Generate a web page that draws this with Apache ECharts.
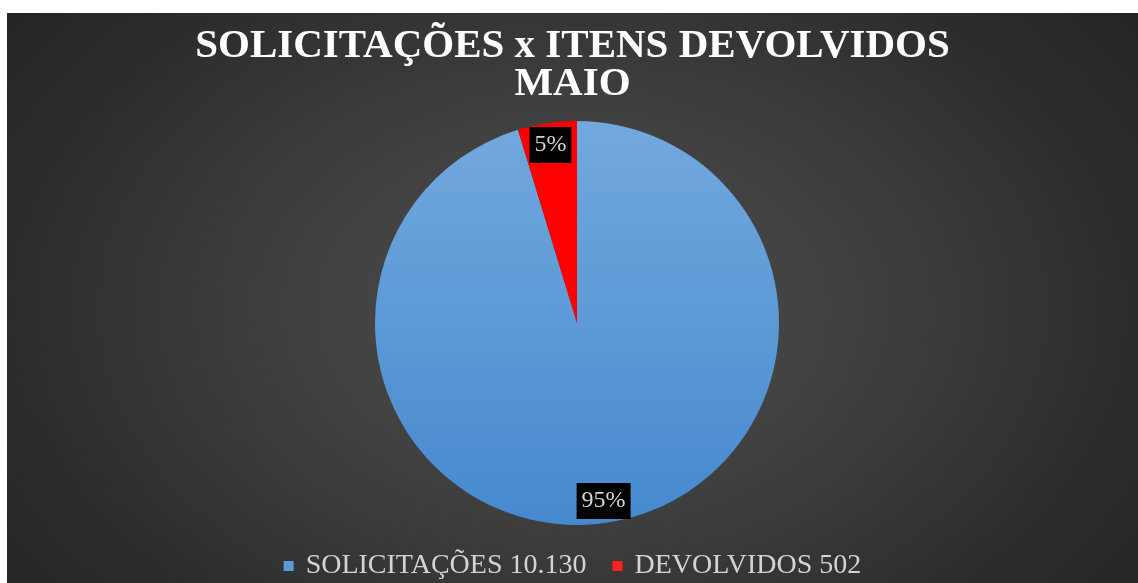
<!DOCTYPE html>
<html><head><meta charset="utf-8">
<script src="https://cdn.jsdelivr.net/npm/echarts@6/dist/echarts.min.js"></script>
<style>
html,body{margin:0;padding:0;background:#fff;width:1138px;height:583px;overflow:hidden}
#wrap{position:absolute;left:7px;top:13px;width:1131px;height:570px;
background:radial-gradient(ellipse 62% 85% at 50% 52%, #4e4e4e 0%, #404040 40%, #2c2c2c 80%, #252525 100%);}
#c{width:1131px;height:570px}
</style></head><body>
<div id="wrap"><div id="c"></div></div>
<script>
const titleText = 'SOLICITAÇÕES x ITENS DEVOLVIDOS\nMAIO';
const categories = ['SOLICITAÇÕES', 'DEVOLVIDOS'];
const values = [10130, 502];
const valueLabels = ['10.130', '502'];

const chart = echarts.init(document.getElementById('c'));
const blue = {type:'linear',x:0,y:0,x2:0,y2:1,colorStops:[{offset:0,color:'#72a9dd'},{offset:1,color:'#4689cf'}]};
const colors = [blue, '#ff0000'];
const data = categories.map((n,i)=>({name:n, value:values[i], itemStyle:{color:colors[i]}}));
const labelData = categories.map((n,i)=>({name:n, value:values[i]}));
chart.setOption({
  backgroundColor:'transparent',
  animation:false,
  title:{text:titleText, left:'center', top:9, padding:[5,5,5,13],
    textStyle:{fontFamily:'Liberation Serif', fontWeight:'bold', fontSize:41, color:'#ffffff', lineHeight:38}},
  legend:{bottom:-2, left:'center', itemWidth:10, itemHeight:10, icon:'rect', itemGap:26, padding:[5,5,5,13],
    data:[{name:categories[0], itemStyle:{color:'#5b9bd5'}},{name:categories[1], itemStyle:{color:'#ff2020'}}],
    formatter:function(n){const i=categories.indexOf(n);return n+' '+valueLabels[i];},
    textStyle:{fontFamily:'Liberation Serif', fontSize:28, color:'#d4d4d4', padding:[0,0,0,7]}},
  series:[
    {type:'pie', radius:[0,202], center:[570,310], startAngle:90, clockwise:true,
     data:data, label:{show:false}, labelLine:{show:false}, itemStyle:{borderWidth:0},
     emphasis:{disabled:true}},
    {type:'pie', radius:[150,204], center:[570,310], startAngle:90, clockwise:true, silent:true,
     data:labelData, itemStyle:{color:'rgba(0,0,0,0)'}, percentPrecision:0,
     label:{show:true, position:'inside', formatter:'{d}%', fontFamily:'Liberation Serif', fontSize:24,
       color:'#d4d4d4', backgroundColor:'#000000', padding:[7,5,5,5]},
     labelLine:{show:false}, emphasis:{disabled:true}}
  ]
});
</script></body></html>
